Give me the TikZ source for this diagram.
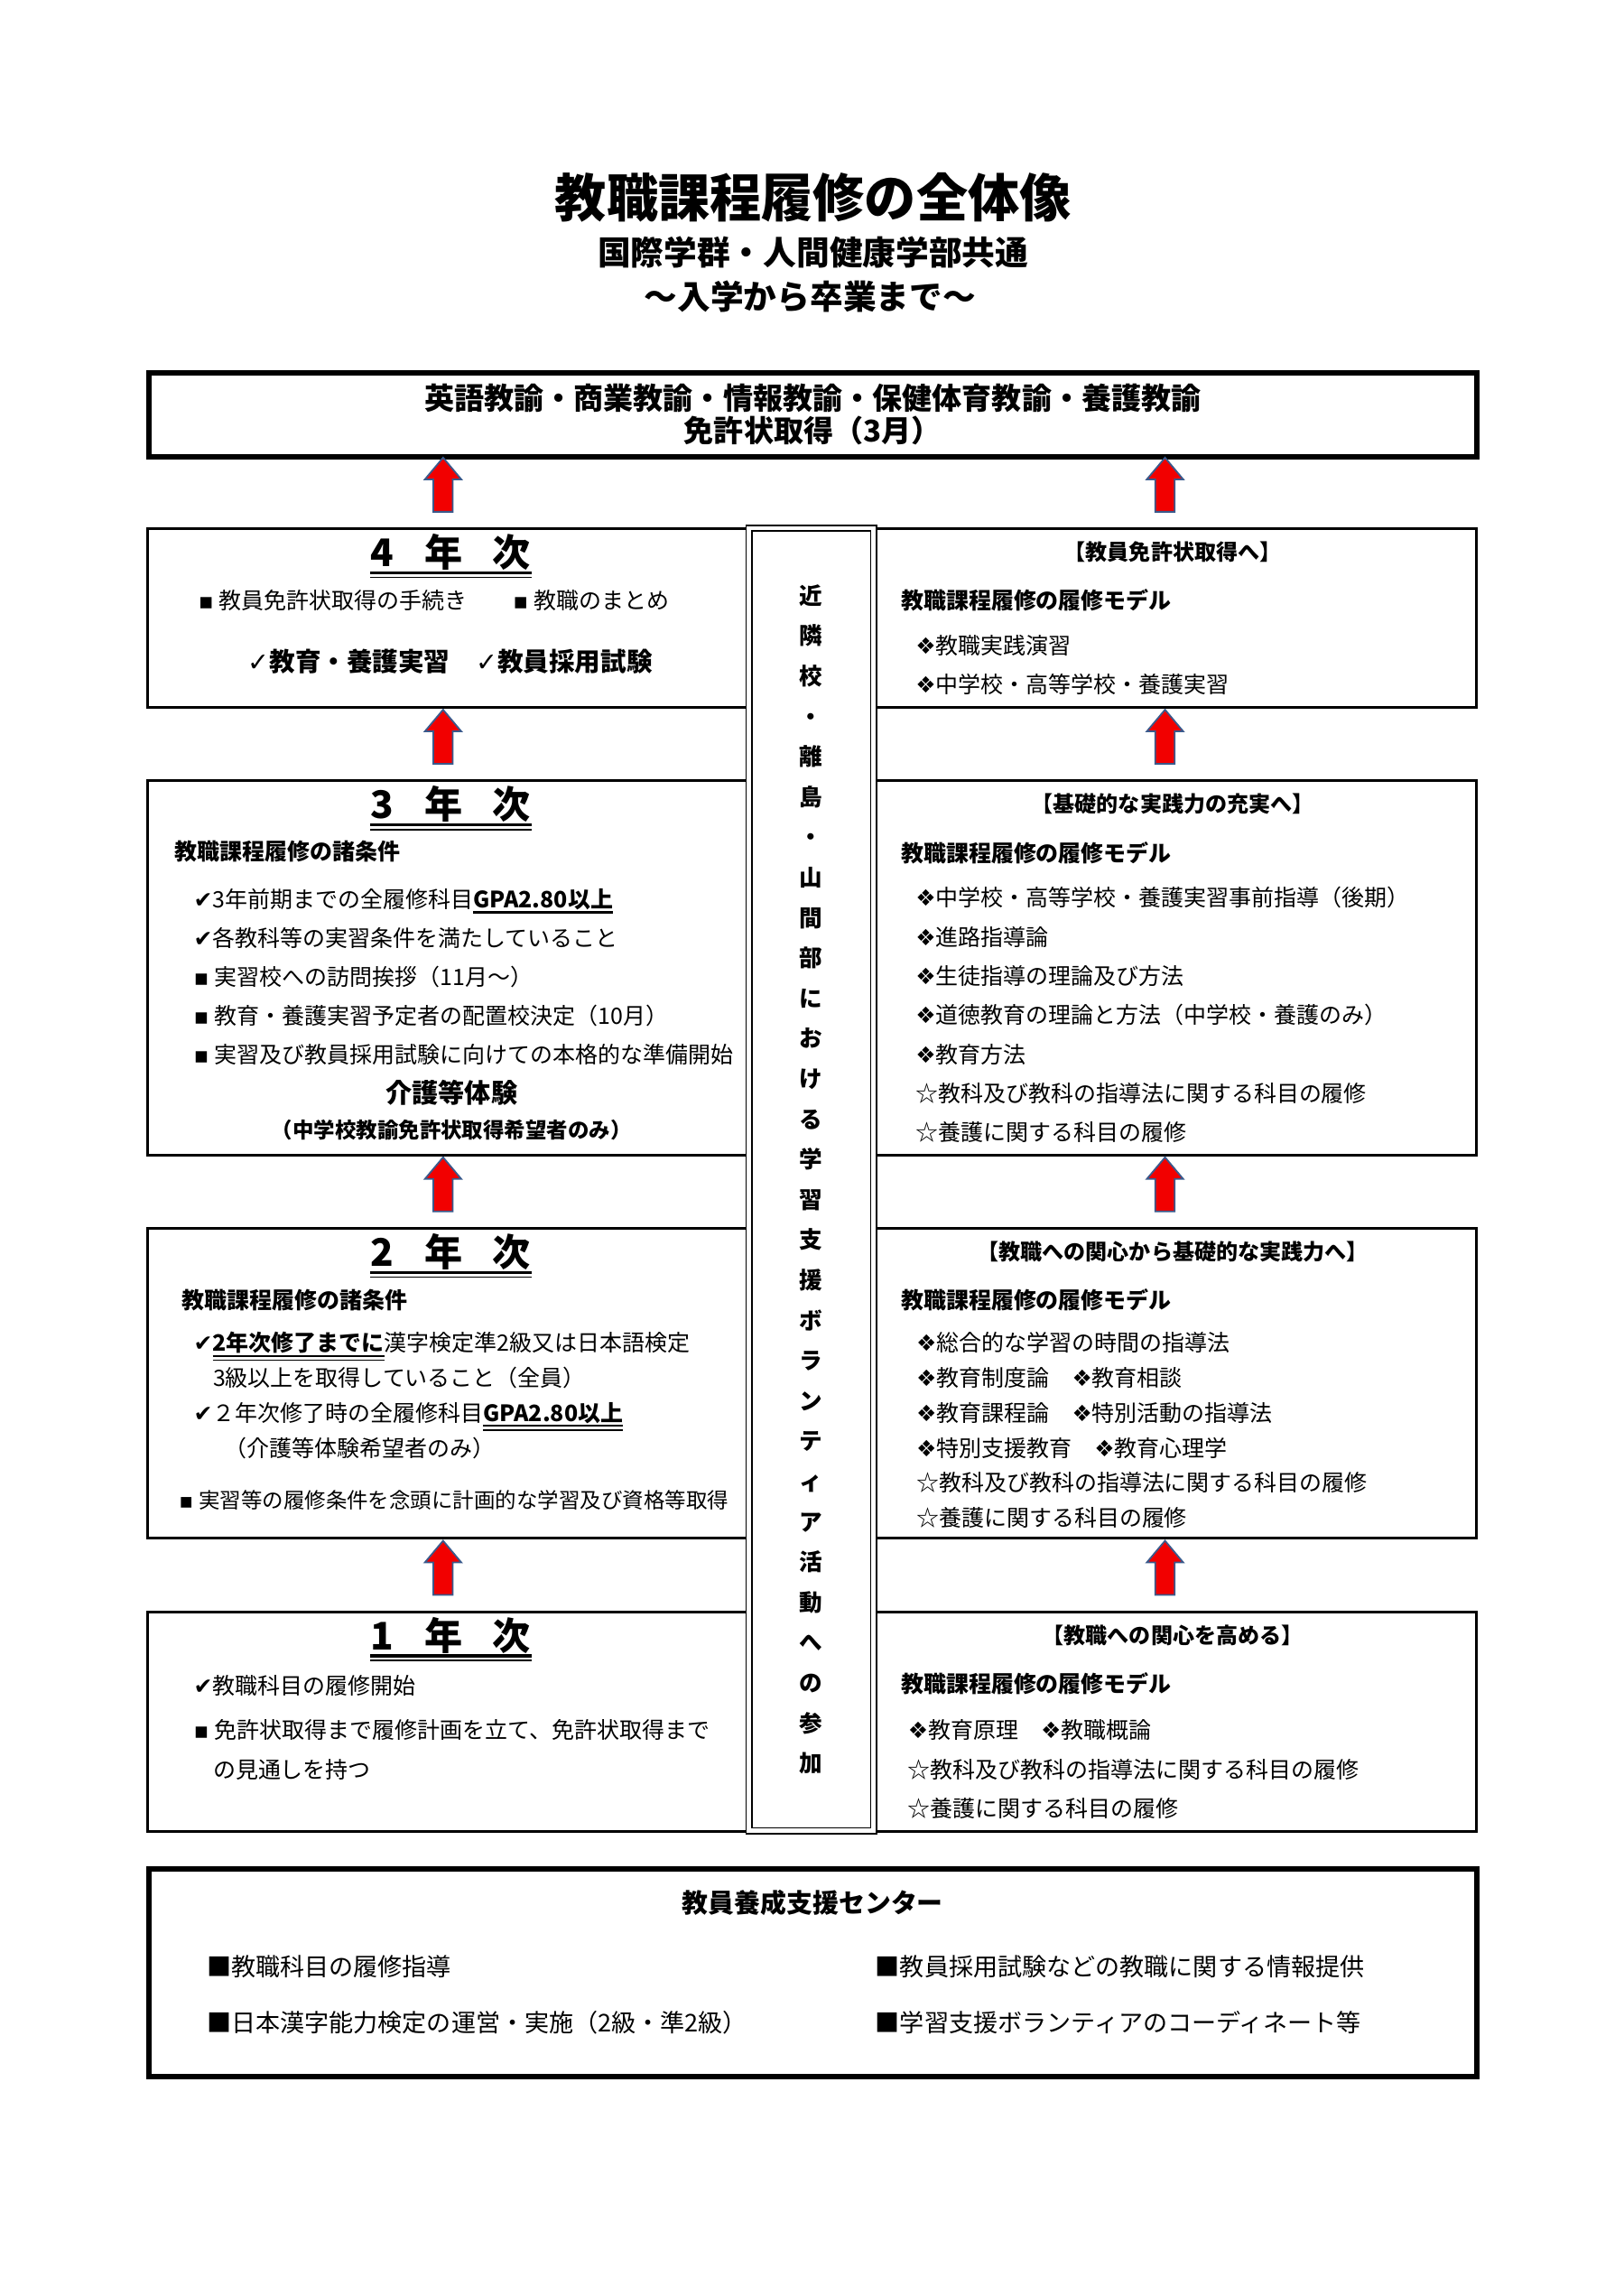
\documentclass[tikz,border=0pt]{standalone}
\usepackage{fontspec}
\setmainfont{Noto Sans CJK JP}
\newfontfamily\symf{DejaVu Sans}
\usetikzlibrary{positioning, shapes.arrows}

\definecolor{arrowline}{HTML}{3A5A8C}
\definecolor{arrowfill}{HTML}{F20000}

\newcommand{\chk}{{\symf\mdseries ✔}}
\newcommand{\lgtick}{{\symf\mdseries ✓}}
\newcommand{\sqb}{{\symf\mdseries ▪}\hspace{0.25em}}
\newcommand{\dia}{{\symf\mdseries ❖}}
\newcommand{\ulthick}[1]{\setbox0\hbox{#1}\rlap{\rule[-2.4pt]{\wd0}{1pt}}\box0}
\newcommand{\uldouble}[1]{\setbox0\hbox{#1}\rlap{\rule[-1.9pt]{\wd0}{0.7pt}}\rlap{\rule[-3.3pt]{\wd0}{0.4pt}}\box0}

\begin{document}
\begin{tikzpicture}[
  frame/.style  ={draw, line width=2pt, minimum width=17.18cm, anchor=north west, inner sep=0},
  yearbox/.style={draw, line width=1pt, minimum width=7.79cm, anchor=north west, inner sep=0},
  midcol/.style ={draw, double=white, line width=0.6pt, double distance=1.5pt, fill=white, anchor=north west, inner sep=0},
  uparrow/.style={single arrow, shape border rotate=90, draw=arrowline, fill=arrowfill, line width=0.6pt,
                  minimum height=0.70cm, minimum width=0.44cm, single arrow head extend=0.11cm,
                  single arrow tip angle=80, inner sep=0.115cm},
  yhead/.style  ={font=\bfseries\fontsize{14}{14}\selectfont, inner sep=0},
  brk/.style    ={font=\bfseries\fontsize{8}{8}\selectfont, inner sep=0},
  sub/.style    ={font=\bfseries\fontsize{8.3}{10}\selectfont, inner sep=0},
  body/.style   ={font=\fontsize{8.3}{#1}\selectfont, align=left, inner sep=0},
  body/.default =14.4pt,
  ctritem/.style={font=\fontsize{9}{20.4}\selectfont, align=left, inner sep=0},
  vtext/.style  ={font=\bfseries\fontsize{8.5}{14.82}\selectfont, align=center, inner sep=0},
  ulA/.style    ={line width=1.1pt},
  ulB/.style    ={line width=0.5pt},
]
\path[use as bounding box, fill=white] (0,0) rectangle (21,-29.7);

% ---------- title ----------
\node[font=\bfseries\fontsize{19}{19}\selectfont, inner sep=0] (title) at (10.52,-2.56) {教職課程履修の全体像};
\node[font=\bfseries\fontsize{12.2}{13}\selectfont, inner sep=0] (sub1) at (10.52,-3.27) {国際学群・人間健康学部共通};
\node[font=\bfseries\fontsize{12.2}{13}\selectfont, inner sep=0] (sub2) at (10.48,-3.84) {～入学から卒業まで～};

% ---------- licence ----------
\node[frame, minimum height=1.08cm] (lic) at (1.89,-4.79) {};
\node[font=\bfseries\fontsize{11}{12}\selectfont, align=center, inner sep=0] (lict) at (lic.center)
  {英語教諭・商業教諭・情報教諭・保健体育教諭・養護教諭\\免許状取得（3月）};

% ---------- year rows ----------
\foreach \n/\yt/\yh/\btxt in {4/6.82/2.31/教員免許状取得へ, 3/10.08/4.84/基礎的な実践力の充実へ,
                              2/15.87/4.01/教職への関心から基礎的な実践力へ, 1/20.83/2.84/教職への関心を高める} {
  \node[yearbox, minimum height={\yh cm}] (yl\n) at (1.89,-\yt) {};
  \node[yearbox, minimum height={\yh cm}] (yr\n) at (11.29,-\yt) {};
  \node[uparrow] (al\n) at ([xshift=-0.07cm,yshift=0.475cm]yl\n.north) {};
  \node[uparrow] (ar\n) at ([xshift=-0.13cm,yshift=0.475cm]yr\n.north) {};
  \node[yhead] (h\n) at ([xshift=0.03cm,yshift=-0.32cm]yl\n.north) {\n\hspace{0.8em}年\hspace{0.8em}次};
  \draw[ulA] ([yshift=-0.27cm]h\n.west) -- ([yshift=-0.27cm]h\n.east);
  \draw[ulB] ([yshift=-0.33cm]h\n.west) -- ([yshift=-0.33cm]h\n.east);
  \node[brk] (b\n) at ([xshift=-0.03cm,yshift=-0.32cm]yr\n.north) {【\btxt】};
  \node[sub, below right=0.80cm and 0.36cm of yr\n.north west] (m\n) {教職課程履修の履修モデル};
}

% ---------- middle column ----------
\node[midcol, minimum width=1.61cm, minimum height=16.85cm] (mid) at (9.68,-6.82) {};
\node[vtext] (vt) at (mid.center)
  {近\\隣\\校\\・\\離\\島\\・\\山\\間\\部\\に\\お\\け\\る\\学\\習\\支\\援\\ボ\\ラ\\ン\\テ\\ィ\\ア\\活\\動\\へ\\の\\参\\加};

% ---------- 4th year ----------
\node[body, below right=0.805cm and 0.67cm of yl4.north west] (p4a) {\sqb 教員免許状取得の手続き};
\node[body, below right=0.805cm and 4.74cm of yl4.north west] (p4b) {\sqb 教職のまとめ};
\node[font=\bfseries\fontsize{9.5}{10}\selectfont, inner sep=0] (k4) at ([xshift=0.02cm,yshift=-1.74cm]yl4.north)
  {\lgtick 教育・養護実習\quad\lgtick 教員採用試験};
\node[body=14.5pt, below right=1.385cm and 0.55cm of yr4.north west] (j4)
  {\dia 教職実践演習\\\dia 中学校・高等学校・養護実習};

% ---------- 3rd year ----------
\node[sub, below right=0.79cm and 0.36cm of yl3.north west] (c3) {教職課程履修の諸条件};
\node[body=14.3pt, below right=1.405cm and 0.61cm of yl3.north west] (i3)
  {\chk 3年前期までの全履修科目\ulthick{\bfseries GPA2.80以上}\\
   \chk 各教科等の実習条件を満たしていること\\
   \sqb 実習校への訪問挨拶（11月～）\\
   \sqb 教育・養護実習予定者の配置校決定（10月）\\
   \sqb 実習及び教員採用試験に向けての本格的な準備開始};
\node[font=\bfseries\fontsize{9.7}{10}\selectfont, inner sep=0] (k3a) at ([xshift=0.04cm,yshift=-4.05cm]yl3.north) {介護等体験};
\node[font=\bfseries\fontsize{7.8}{8}\selectfont, inner sep=0] (k3b) at ([xshift=0.04cm,yshift=-4.54cm]yl3.north) {（中学校教諭免許状取得希望者のみ）};
\node[body=14.4pt, below right=1.385cm and 0.55cm of yr3.north west] (j3)
  {\dia 中学校・高等学校・養護実習事前指導（後期）\\
   \dia 進路指導論\\
   \dia 生徒指導の理論及び方法\\
   \dia 道徳教育の理論と方法（中学校・養護のみ）\\
   \dia 教育方法\\
   ☆教科及び教科の指導法に関する科目の履修\\
   ☆養護に関する科目の履修};

% ---------- 2nd year ----------
\node[sub, below right=0.80cm and 0.46cm of yl2.north west] (c2) {教職課程履修の諸条件};
\node[body=12.9pt, below right=1.355cm and 0.61cm of yl2.north west] (i2)
  {\chk\uldouble{\bfseries 2年次修了までに}漢字検定準2級又は日本語検定\\
   \hspace*{0.25cm}3級以上を取得していること（全員）\\
   \chk ２年次修了時の全履修科目\uldouble{\bfseries GPA2.80以上}\\
   \hspace*{0.4cm}（介護等体験希望者のみ）};
\node[body, font=\fontsize{7.8}{10}\selectfont, below right=3.40cm and 0.42cm of yl2.north west] (i2b)
  {\sqb 実習等の履修条件を念頭に計画的な学習及び資格等取得};
\node[body=12.9pt, below right=1.355cm and 0.56cm of yr2.north west] (j2)
  {\dia 総合的な学習の時間の指導法\\
   \dia 教育制度論　\dia 教育相談\\
   \dia 教育課程論　\dia 特別活動の指導法\\
   \dia 特別支援教育　\dia 教育心理学\\
   ☆教科及び教科の指導法に関する科目の履修\\
   ☆養護に関する科目の履修};

% ---------- 1st year ----------
\node[body=14.5pt, below right=0.835cm and 0.61cm of yl1.north west] (i1)
  {\chk 教職科目の履修開始\\[1.7pt]
   \sqb 免許状取得まで履修計画を立て、免許状取得まで\\
   \hspace*{0.25cm}の見通しを持つ};
\node[body=14.5pt, below right=1.405cm and 0.45cm of yr1.north west] (j1)
  {\dia 教育原理　\dia 教職概論\\
   ☆教科及び教科の指導法に関する科目の履修\\
   ☆養護に関する科目の履修};

% ---------- support centre ----------
\node[frame, minimum height=2.69cm] (ctr) at (1.89,-24.14) {};
\node[font=\bfseries\fontsize{9.6}{10}\selectfont, inner sep=0] (ctrt) at ([yshift=-0.47cm]ctr.north) {教員養成支援センター};
\node[ctritem, below right=1.15cm and 0.78cm of ctr.north west] (ctra)
  {■教職科目の履修指導\\■日本漢字能力検定の運営・実施（2級・準2級）};
\node[ctritem, below right=1.15cm and 9.43cm of ctr.north west] (ctrb)
  {■教員採用試験などの教職に関する情報提供\\■学習支援ボランティアのコーディネート等};

\end{tikzpicture}
\end{document}
